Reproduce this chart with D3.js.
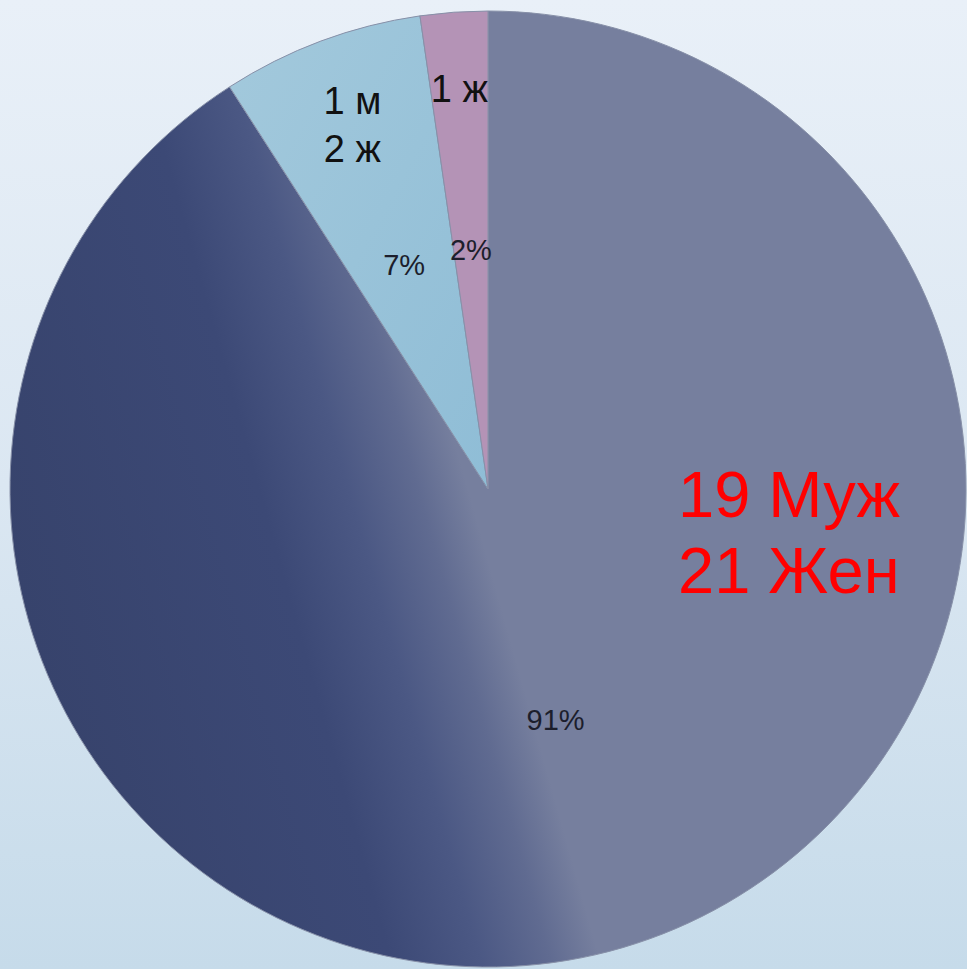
<!DOCTYPE html>
<html>
<head>
<meta charset="utf-8">
<script src="https://cdn.jsdelivr.net/npm/d3@7"></script>
<style>
  html, body { margin: 0; padding: 0; overflow: hidden; }
</style>
</head>
<body>
<div id="chart"></div>
<script>
var svgWidth = 967;
var svgHeight = 969;

// data
var categories = ["Муж/Жен", "м/ж", "ж"];
var counts = [40, 3, 1];
var percentLabels = ["91%", "7%", "2%"];
var countLabels = [["19 Муж", "21 Жен"], ["1 м", "2 ж"], ["1 ж"]];

var cx = 488, cy = 489, radius = 478;
var labelRadius = [0, 388, 401];

var svg = d3.select("#chart")
            .append("svg")
            .attr("width", svgWidth)
            .attr("height", svgHeight);

var defs = svg.append("defs");

// page background
var bg = defs.append("linearGradient")
             .attr("id", "bg")
             .attr("x1", 0).attr("y1", 0).attr("x2", 0).attr("y2", 1);
bg.append("stop").attr("offset", "0").attr("stop-color", "#e9f0f8");
bg.append("stop").attr("offset", "0.5").attr("stop-color", "#dbe7f2");
bg.append("stop").attr("offset", "1").attr("stop-color", "#c6dbea");

svg.append("rect")
   .attr("width", svgWidth)
   .attr("height", svgHeight)
   .attr("fill", "url(#bg)");

// shading of the large slice, slightly tilted (coords relative to pie centre)
var ux = 0.963, uy = -0.27;
var big = defs.append("linearGradient")
              .attr("id", "bigFill")
              .attr("gradientUnits", "userSpaceOnUse")
              .attr("x1", -480 * ux).attr("y1", -480 * uy)
              .attr("x2", 480 * ux).attr("y2", 480 * uy);
[[0, "#37436c"], [0.27, "#3c4976"], [0.36, "#4b5884"], [0.43, "#606b91"],
 [0.48, "#767f9e"], [1, "#767f9e"]].forEach(function(s) {
    big.append("stop").attr("offset", s[0]).attr("stop-color", s[1]);
});

var blue = defs.append("linearGradient")
               .attr("id", "blueFill")
               .attr("x1", 0).attr("y1", 0).attr("x2", 1).attr("y2", 1);
blue.append("stop").attr("offset", "0").attr("stop-color", "#a3c9dc");
blue.append("stop").attr("offset", "1").attr("stop-color", "#8fbdd6");

var fills = ["url(#bigFill)", "url(#blueFill)", "#b493b6"];

var chart = svg.append("g").attr("transform", `translate(${cx}, ${cy})`);

var pie = d3.pie().sort(null).value(d => d);
var arcs = pie(counts);

var arc = d3.arc().innerRadius(0).outerRadius(radius);
var pctArc = d3.arc().innerRadius(240).outerRadius(240);

chart.selectAll("path.slice")
     .data(arcs)
     .enter()
     .append("path")
     .attr("class", "slice")
     .attr("d", arc)
     .attr("fill", (d, i) => fills[i])
     .attr("stroke", "#8790a8")
     .attr("stroke-width", 1);

// percentages
chart.selectAll("text.pct")
     .data(arcs)
     .enter()
     .append("text")
     .attr("class", "pct")
     .attr("transform", d => `translate(${pctArc.centroid(d)})`)
     .attr("text-anchor", "middle")
     .attr("dy", "0.36em")
     .style("font-family", "Liberation Sans, Arial, sans-serif")
     .style("font-size", "29px")
     .style("fill", "#1c1e2c")
     .text((d, i) => percentLabels[i]);

// small slice counts
arcs.slice(1).forEach(function(d, k) {
    var i = k + 1;
    var p = d3.arc().innerRadius(labelRadius[i]).outerRadius(labelRadius[i]).centroid(d);
    var lines = countLabels[i];
    var t = chart.append("text")
                 .attr("text-anchor", "middle")
                 .style("font-family", "Liberation Sans, Arial, sans-serif")
                 .style("font-size", "38px")
                 .style("fill", "#111");
    lines.forEach(function(line, j) {
        t.append("tspan")
         .attr("x", p[0])
         .attr("y", p[1] + 13 + (j - (lines.length - 1) / 2) * 48)
         .text(line);
    });
});

// big slice count, in red at the right
var bigLines = countLabels[0];
var bigText = chart.append("text")
                   .style("font-family", "Liberation Sans, Arial, sans-serif")
                   .style("font-size", "65px")
                   .style("fill", "#ff0000");
bigLines.forEach(function(line, j) {
    bigText.append("tspan")
           .attr("x", 678 - cx)
           .attr("y", 517 - cy + j * 76)
           .text(line);
});
</script>
</body>
</html>
